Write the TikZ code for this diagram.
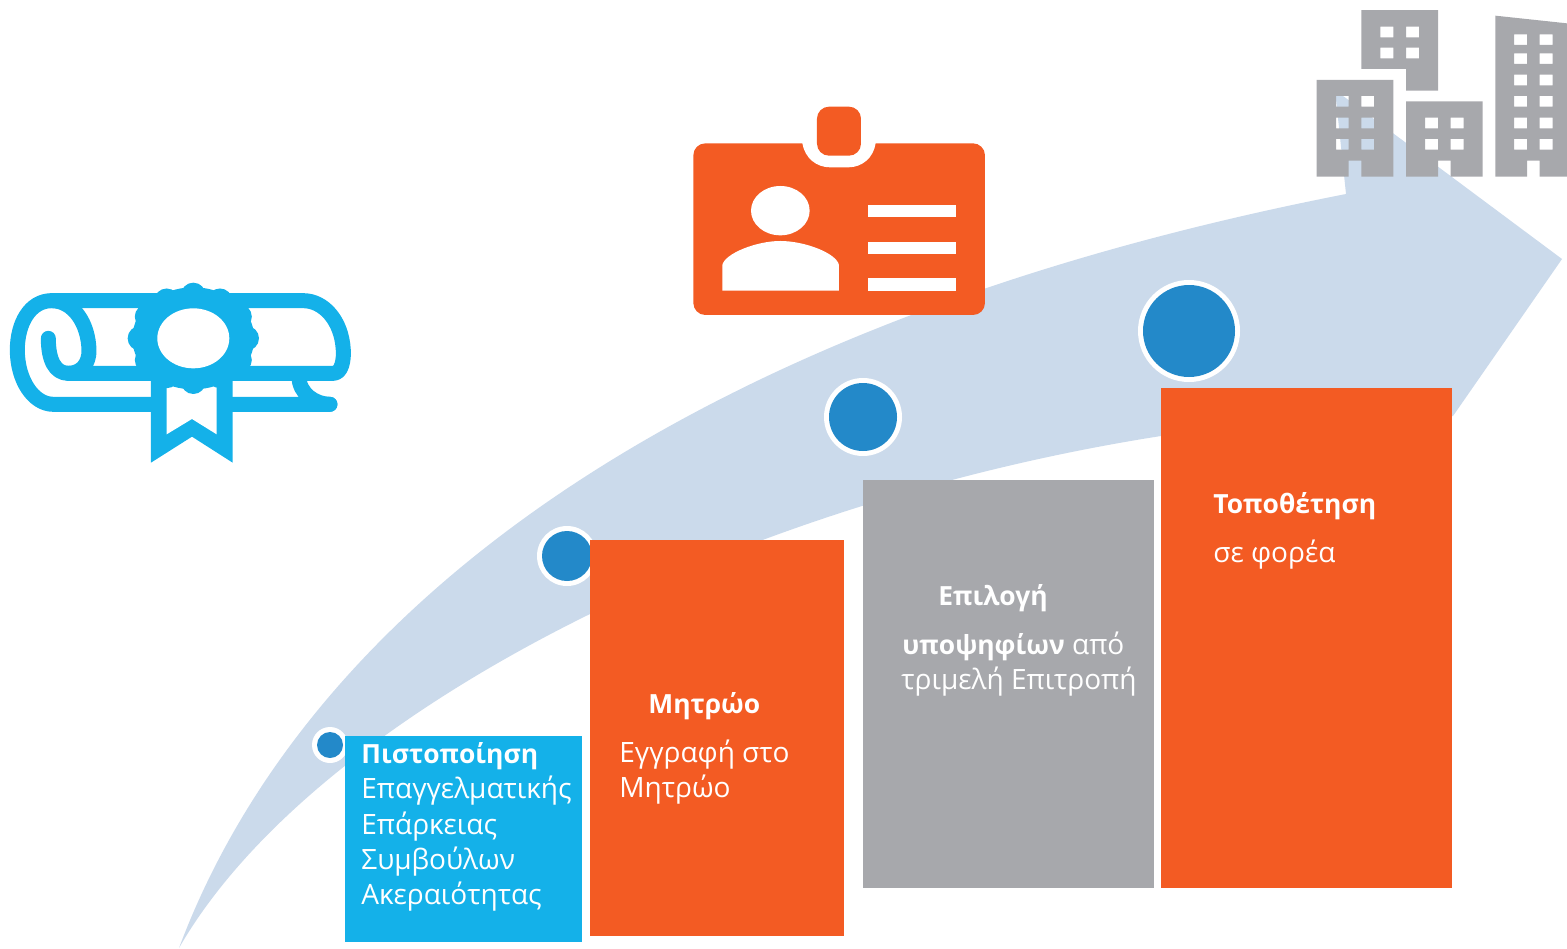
\documentclass[tikz,border=0pt]{standalone}
\usepackage{fontspec}
\setmainfont{Open Sans}
\usepackage{tikz}
\definecolor{bandc}{HTML}{CBDAEB}
\definecolor{dotc}{HTML}{2389C9}
\definecolor{orangec}{HTML}{F35B23}
\definecolor{grayc}{HTML}{A7A8AC}
\definecolor{skyc}{HTML}{14B1E9}

\begin{document}
\begin{tikzpicture}[x=0.5pt,y=-0.5pt]
  \tikzstyle{t}=[anchor=base west,inner sep=0pt,text=white,font=\fontsize{14}{16}\selectfont]
  \tikzstyle{tb}=[t,font=\fontsize{13.2}{16}\selectfont\bfseries]
  \tikzstyle{pen}=[draw=skyc,line width=7.5pt,line cap=round,line join=round]
  \useasboundingbox(0,0)rectangle(1567,948);
  \fill[bandc](179,948)..controls(298,630)and(650,330)..(1346,194)--(1335,90)--(1562,259)--(1453,416)--(1300,420)--(1161,436)..controls(720,505)and(310,720)..(179,948)--cycle;
  \foreach\x/\y/\r/\s in{330/745/13/18,567/556/25/30,863/417/34/39,1189/331/46/51}{
    \fill[white](\x,\y)circle[radius=\s];
    \fill[dotc](\x,\y)circle[radius=\r];
  }
  \fill[skyc](345,736)rectangle(582,942);
  \fill[orangec](590,540)rectangle(844,936);
  \fill[grayc](863,480)rectangle(1154,888);
  \fill[orangec](1161,388)rectangle(1452,888);
  \node[tb](cert)at(361,763){Πιστοποίηση};
  \node[t](certa)at(361,798){Επαγγελματικής};
  \node[t](certb)at(361,834){Επάρκειας};
  \node[t](certc)at(361,869){Συμβούλων};
  \node[t](certd)at(361,904){Ακεραιότητας};
  \node[tb](reg)at(648,713){Μητρώο};
  \node[t](rega)at(619,762){Εγγραφή στο};
  \node[t](regb)at(619,797){Μητρώο};
  \node[tb](sel)at(938,605){Επιλογή};
  \node[t](sela)at(902,654){{\fontsize{13.2}{16}\selectfont\bfseries υποψηφίων} από};
  \node[t](selb)at(901,689){τριμελή Επιτροπή};
  \node[tb](pos)at(1213,513){Τοποθέτηση};
  \node[t](posa)at(1213,562){σε φορέα};
  \begin{scope}[shift={(0,270)},scale=0.3333]
    \draw[pen](145,205)..controls(145,270)and(165,310)..(205,310)--(1000,310)..controls(1025,310)and(1032,270)..(1030,240)..controls(1025,150)and(970,92)..(910,92)--(155,92)..controls(90,92)and(52,160)..(52,240)..controls(52,330)and(100,403)..(160,403)--(990,403);
    \draw[pen](155,92)..controls(220,92)and(265,160)..(267,240)..controls(268,280)and(245,310)..(205,310);
    \draw[pen](897,320)..controls(897,370)and(945,403)..(990,403);
    \fill[skyc](453,330)--(453,578)--(576,500)--(698,578)--(698,330)--cycle;
    \fill[white](500,345)--(500,493)--(576,447)--(650,493)--(650,345)--cycle;
    \fill[skyc](580,205)ellipse[x radius=183,y radius=153];
    \foreach\a in{0,30,...,330}{\fill[skyc](580,205)++(\a:160 and 130)circle[radius=37];}
    \fill[white](580,205)ellipse[x radius=108,y radius=90];
  \end{scope}
  \begin{scope}[shift={(680,95)},scale=0.3333]
    \fill[orangec,rounded corners=6pt](40,145)rectangle(915,660);
    \fill[white](367,100)--(367,145)..controls(375,190)and(410,217)..(450,217)--(505,217)..controls(545,217)and(580,190)..(587,145)--(587,100)--cycle;
    \fill[orangec,rounded corners=6pt](411,35)rectangle(543,182);
    \fill[white](301,347)ellipse[x radius=88,y radius=74];
    \fill[white](127,587)--(127,510)..controls(135,475)and(230,438)..(301,438)..controls(375,438)and(470,475)..(477,510)--(477,587)--cycle;
    \foreach\y in{329,440,550}{\fill[white](564,\y)rectangle(827,\y+37);}
  \end{scope}
  \begin{scope}[shift={(1300,0)},scale=0.3333]
    \fill[grayc,even odd rule](50,240)--(280,240)--(280,530)--(184,530)--(184,482)--(146,482)--(146,530)--(50,530)--cycle
      \foreach\y in{288,353,417}{\foreach\x in{108,184}{(\x,\y)rectangle(\x+38,\y+32)}};
    \fill[grayc,even odd rule](184,30)--(414,30)--(414,272)--(318,272)--(318,207)--(184,207)--cycle
      \foreach\y in{80,143}{\foreach\x in{241,318}{(\x,\y)rectangle(\x+39,\y+32)}};
    \fill[grayc,even odd rule](318,304)--(548,304)--(548,530)--(452,530)--(452,482)--(414,482)--(414,530)--(318,530)--cycle
      \foreach\y in{353,417}{\foreach\x in{375,452}{(\x,\y)rectangle(\x+39,\y+32)}};
    \fill[grayc,even odd rule](586,47)--(801,70)--(801,530)--(719,530)--(719,482)--(681,482)--(681,530)--(586,530)--cycle
      \foreach\y in{103,160,224,288,353,417}{\foreach\x in{642,719}{(\x,\y)rectangle(\x+39,\y+32)}};
  \end{scope}
\end{tikzpicture}
\end{document}
